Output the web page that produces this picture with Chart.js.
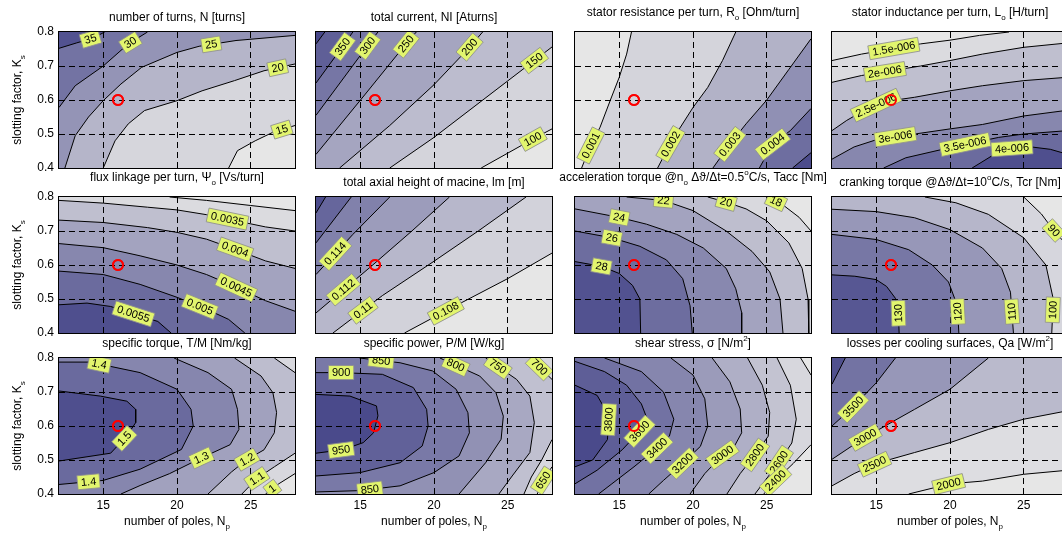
<!DOCTYPE html>
<html><head><meta charset="utf-8">
<script src="https://cdn.jsdelivr.net/npm/chart.js@4.4.1/dist/chart.umd.min.js"></script>
<style>
html,body{margin:0;padding:0;background:#fff;}
body{width:1062px;height:535px;overflow:hidden;position:relative}
canvas{position:absolute}
</style></head><body>
<script>
// ---------------- axes ----------------
const npRange = [12, 28];
const ksRange = [0.4, 0.8];
const npTicks = [15, 20, 25];
const ksTicks = [0.4, 0.5, 0.6, 0.7, 0.8];
const designPoint = [16, 0.6];

// ---------------- 1: number of turns ----------------
const turnsLevels = [15, 20, 25, 30, 35];
const turnsSpan = [12.5, 38];
const turnsContours = [
  [35, [[12,0.752],[13.2,0.768],[14.3,0.782],[15.1,0.8]], 'tr br bl'],
  [30, [[12,0.578],[13.1,0.642],[15,0.7],[16.7,0.765],[18,0.8]], 'tr br bl'],
  [25, [[12.4,0.4],[13.1,0.495],[14,0.55],[15,0.598],[16.2,0.647],[17.6,0.696],[20,0.74],[21.5,0.758],[24,0.775],[28,0.79]], 'br'],
  [20, [[15,0.4],[15.8,0.48],[16.7,0.53],[17.8,0.569],[20,0.598],[21.7,0.627],[23.9,0.657],[25.9,0.686],[28,0.706]], 'br'],
  [15, [[23.5,0.4],[24.1,0.451],[25.3,0.48],[26.5,0.505],[28,0.525]], 'br']
];
const turnsLabels = [[35,14.2,0.77],[30,16.9,0.765],[25,22.3,0.77],[20,26.85,0.69],[15,27.1,0.515]];

// ---------------- 2: total current ----------------
const currentLevels = [100, 150, 200, 250, 300, 350, 400];
const currentSpan = [61, 420];
const currentContours = [
  [400, [[12,0.765],[12.6,0.8]], 'tr br bl'],
  [350, [[12,0.65],[13.8,0.757],[14.5,0.8]], 'tr br bl'],
  [300, [[12,0.555],[15.5,0.76],[16.2,0.8]], 'tr br bl'],
  [250, [[12,0.44],[15.3,0.615],[18.1,0.765],[18.8,0.8]], 'tr br bl'],
  [200, [[13.6,0.4],[17,0.525],[20,0.645],[22.3,0.75],[23.3,0.8]], 'tr br'],
  [150, [[17,0.4],[20,0.49],[26.8,0.716],[28,0.756]], 'br'],
  [100, [[23.2,0.4],[26.7,0.485],[28,0.515]], 'br']
];
const currentLabels = [[350,13.8,0.757],[300,15.5,0.76],[250,18.1,0.765],[200,22.3,0.76],[150,26.8,0.716],[100,26.7,0.485]];

// ---------------- 3: stator resistance ----------------
const resistLevels = [0.001, 0.002, 0.003, 0.004, 0.005];
const resistSpan = [0.00046, 0.0054];
const resistContours = [
  [0.001, [[15.83,0.8],[15.5,0.735],[15,0.667],[14.4,0.6],[13.7,0.52],[13.0,0.46],[12.45,0.4]], 'bl tl'],
  [0.002, [[22.9,0.8],[22,0.716],[21,0.637],[20,0.578],[19,0.51],[18.2,0.45],[17.6,0.4]], 'bl tl'],
  [0.003, [[28,0.78],[26.5,0.69],[25,0.6],[23.6,0.53],[22.5,0.47],[21.35,0.4]], 'bl tl tr'],
  [0.004, [[28,0.575],[26.6,0.51],[25.4,0.47],[24.5,0.4]], 'bl tl tr'],
  [0.005, [[28,0.445],[26.75,0.4]], 'bl tl tr']
];
const resistLabels = [[0.001,12.9,0.47],[0.002,18.5,0.47],[0.003,22.5,0.47],[0.004,25.4,0.47]];

// ---------------- 4: stator inductance ----------------
const inductLevels = [1.5e-6, 2e-6, 2.5e-6, 3e-6, 3.5e-6, 4e-6];
const inductSpan = [1.3e-6, 4.3e-6];
const inductContours = [
  [1.5e-6, [[12,0.716],[14,0.735],[16,0.75],[18,0.765],[20,0.776],[22,0.79],[24,0.8]], 'tl'],
  [2e-6, [[12,0.652],[14,0.672],[16,0.686],[18,0.7],[20,0.716],[22.2,0.735],[25,0.755],[28,0.768]], 'tr tl'],
  [2.5e-6, [[12,0.51],[13,0.54],[14,0.565],[15,0.585],[16,0.598],[17.6,0.608],[20,0.627],[22.2,0.642],[25,0.657],[28,0.667]], 'tr tl'],
  [3e-6, [[12,0.426],[13.5,0.462],[15,0.483],[16.3,0.492],[18.1,0.503],[20,0.515],[22.2,0.528],[25,0.553],[28,0.57]], 'tr tl'],
  [3.5e-6, [[15.5,0.4],[17,0.43],[20,0.46],[23.3,0.49],[25,0.5],[28,0.51]], 'tr tl bl'],
  [4e-6, [[21.5,0.4],[23,0.44],[24.2,0.458],[25.5,0.462],[26.8,0.455],[28,0.44]], 'tr tl bl']
];
const inductLabels = [[1.5e-6,16.2,0.75],[2e-6,15.6,0.68],[2.5e-6,15.05,0.579],[3e-6,16.3,0.49],[3.5e-6,21,0.474],[4e-6,24.2,0.459]];

// ---------------- 5: flux linkage ----------------
const fluxLevels = [0.003, 0.0035, 0.004, 0.0045, 0.005, 0.0055];
const fluxSpan = [0.0028, 0.0058];
const fluxContours = [
  [0.003, [[19.5,0.8],[22,0.79],[25,0.775],[28,0.76]], 'tr'],
  [0.0035, [[12,0.79],[15,0.782],[18,0.77],[20,0.762],[22,0.748],[24,0.73],[26,0.712],[28,0.7]], 'tr tl'],
  [0.004, [[12,0.732],[15,0.725],[18,0.71],[20,0.696],[22,0.676],[24,0.645],[26,0.612],[28,0.59]], 'tr tl'],
  [0.0045, [[12,0.663],[15,0.651],[17.5,0.627],[20,0.6],[22,0.572],[24,0.535],[26,0.495],[28,0.464]], 'tr tl'],
  [0.005, [[12,0.582],[15,0.572],[17.5,0.543],[20,0.505],[22,0.47],[23.5,0.44],[24.6,0.4]], 'br tr tl'],
  [0.0055, [[12,0.483],[13.9,0.488],[15.5,0.478],[17.5,0.45],[18.7,0.434],[19.6,0.4]], 'br tr tl']
];
const fluxLabels = [[0.0035,23.45,0.74],[0.004,23.9,0.641],[0.0045,24.1,0.543],[0.005,21.6,0.483],[0.0055,17.1,0.464]];

// ---------------- 6: axial height ----------------
const heightLevels = [0.108, 0.11, 0.112, 0.114, 0.116, 0.118];
const heightSpan = [0.1065, 0.119];
const heightContours = [
  [0.118, [[12,0.753],[12.65,0.8]], 'tr br bl'],
  [0.116, [[12,0.665],[14.39,0.8]], 'tr br bl'],
  [0.114, [[12,0.572],[14.5,0.69],[17,0.8]], 'tr br bl'],
  [0.112, [[12,0.459],[15.74,0.596],[18.5,0.7],[21.05,0.8]], 'tr br bl'],
  [0.11, [[13.15,0.4],[16.5,0.51],[20,0.611],[23,0.7],[26.24,0.8]], 'tr br'],
  [0.108, [[18.0,0.4],[20.8,0.465],[25,0.56],[28,0.635]], 'br']
];
const heightLabels = [[0.114,13.4,0.63],[0.112,13.8,0.53],[0.11,15.2,0.466],[0.108,20.8,0.465]];

// ---------------- 7: acceleration torque ----------------
const taccLevels = [18, 20, 22, 24, 26, 28];
const taccSpan = [17, 29.5];
const taccContours = [
  [28, [[12,0.61],[13.8,0.596],[15,0.575],[15.9,0.54],[16.4,0.5],[16.45,0.4]], 'br tr tl'],
  [26, [[12,0.7],[14.5,0.68],[16.4,0.655],[18.2,0.615],[19.3,0.56],[19.8,0.48],[19.95,0.4]], 'br tr tl'],
  [24, [[12,0.765],[15,0.74],[16.85,0.72],[18.9,0.69],[20.7,0.65],[22.25,0.59],[22.9,0.53],[23.3,0.46],[23.3,0.4]], 'br tr tl'],
  [22, [[15.5,0.8],[18,0.79],[20,0.76],[22.25,0.7],[24,0.64],[25.2,0.58],[25.9,0.5],[26.1,0.4]], 'br tr'],
  [20, [[21,0.8],[22.25,0.785],[23.6,0.765],[25,0.73],[26.5,0.665],[27.4,0.59],[27.8,0.5],[27.85,0.4]], 'br tr'],
  [18, [[25,0.8],[26,0.78],[27.2,0.74],[28,0.7]], 'tr']
];
const taccLabels = [[28,13.8,0.596],[26,14.5,0.68],[24,15,0.74],[22,18,0.79],[20,22.25,0.785],[18,25.6,0.785]];

// ---------------- 8: cranking torque ----------------
const tcrLevels = [90, 100, 110, 120, 130];
const tcrSpan = [85, 138];
const tcrContours = [
  [130, [[12,0.571],[13.55,0.567],[15,0.557],[15.7,0.537],[16.3,0.502],[16.5,0.463],[16.55,0.4]], 'br tr tl'],
  [120, [[12,0.69],[15,0.675],[17.2,0.645],[18.8,0.6],[19.9,0.55],[20.5,0.48],[20.6,0.4]], 'br tr tl'],
  [110, [[12,0.764],[15,0.757],[17.6,0.739],[20,0.704],[22.2,0.65],[23.5,0.59],[24.1,0.52],[24.3,0.4]], 'br tr tl'],
  [100, [[18.3,0.8],[20.4,0.783],[22.6,0.749],[25,0.68],[26.5,0.6],[27,0.5],[26.9,0.4]], 'br tr'],
  [90, [[25,0.8],[26.2,0.75],[27,0.703],[28,0.655]], 'tr']
];
const tcrLabels = [[130,16.45,0.458],[120,20.55,0.463],[110,24.2,0.463],[100,27,0.468],[90,27,0.7]];

// ---------------- 9: specific torque ----------------
const torqueMassLevels = [1.0, 1.1, 1.2, 1.3, 1.4, 1.5];
const torqueMassSpan = [0.95, 1.56];
const torqueMassContours = [
  [1.5, [[12,0.703],[14.8,0.688],[16.6,0.673],[17.2,0.649],[17.2,0.61],[16.6,0.571],[15.5,0.52],[12,0.497]], 'bl br tr tl'],
  [1.4, [[12,0.788],[14.1,0.788],[17.5,0.757],[20,0.708],[20.95,0.649],[21.1,0.6],[20.3,0.531],[17.5,0.473],[15,0.44],[12,0.428]], 'bl br tr tl'],
  [1.3, [[19.8,0.8],[22.1,0.757],[23.7,0.708],[24.1,0.649],[24.2,0.59],[23.6,0.545],[21.6,0.505],[19.5,0.46],[17.5,0.425],[16.2,0.4]], 'br tr'],
  [1.2, [[23.9,0.8],[25.7,0.747],[26.5,0.698],[26.75,0.64],[26.6,0.58],[25.9,0.53],[24.7,0.5],[23.7,0.465],[22.1,0.4]], 'br tr'],
  [1.1, [[26.6,0.8],[28,0.757]], 'tr'],
  [1.1, [[28,0.52],[26.6,0.48],[25.4,0.445],[24.4,0.4]], 'br'],
  [1.0, [[28,0.46],[26.9,0.43],[26,0.4]], 'br']
];
const torqueMassLabels = [[1.4,14.7,0.776],[1.5,16.5,0.561],[1.4,14.0,0.438],[1.3,21.6,0.512],[1.2,24.7,0.505],[1.1,25.3,0.453],[1.0,26.3,0.425]];

// ---------------- 10: specific power ----------------
const powerMassLevels = [650, 700, 750, 800, 850, 900, 950];
const powerMassSpan = [620, 975];
const powerMassContours = [
  [950, [[12,0.693],[14.3,0.688],[16.1,0.659],[16.2,0.63],[15.9,0.58],[15.2,0.551],[13.8,0.53],[12,0.52]], 'bl br tr tl'],
  [900, [[12,0.757],[13.7,0.757],[16.5,0.752],[18.6,0.713],[19.5,0.649],[19.6,0.6],[19.2,0.541],[17.7,0.492],[15,0.463],[12,0.453]], 'bl br tr tl'],
  [850, [[14.95,0.8],[17.7,0.786],[19.9,0.762],[21.5,0.708],[22.3,0.639],[22.4,0.58],[21.7,0.512],[20,0.463],[17.7,0.424],[15,0.41],[12,0.406]], 'bl br tr'],
  [800, [[20.4,0.8],[23.1,0.747],[24.2,0.698],[24.7,0.629],[24.55,0.561],[23.5,0.492],[21.7,0.4]], 'br tr'],
  [750, [[23.5,0.8],[25.6,0.737],[26.5,0.688],[26.8,0.61],[26.5,0.522],[25.3,0.453],[24.4,0.4]], 'br tr'],
  [700, [[26.5,0.8],[28,0.737]], 'tr'],
  [700, [[28,0.56],[27.3,0.5],[26.6,0.45],[26.1,0.4]], 'br'],
  [650, [[28,0.48],[27.4,0.44],[27,0.4]], 'br']
];
const powerMassLabels = [[900,13.7,0.765],[850,16.4,0.786],[800,21.5,0.782],[750,24.2,0.767],[700,27,0.767],[950,13.7,0.531],[850,15.6,0.433],[650,27.4,0.44]];

// ---------------- 11: shear stress ----------------
const shearLevels = [2400, 2600, 2800, 3000, 3200, 3400, 3600, 3800];
const shearSpan = [2250, 3920];
const shearContours = [
  [3800, [[12,0.72],[13.5,0.69],[14.3,0.63],[14.2,0.56],[13.2,0.5],[12,0.48]], 'bl br tr tl'],
  [3600, [[12,0.79],[14,0.76],[15.5,0.72],[16.5,0.665],[16.9,0.62],[16.5,0.59],[15.2,0.53],[13.5,0.47],[12,0.43]], 'bl br tr tl'],
  [3400, [[14,0.8],[16.5,0.76],[18,0.7],[18.7,0.62],[18.4,0.57],[17.56,0.535],[16,0.48],[14.5,0.43],[13.6,0.4]], 'br tr'],
  [3200, [[18.5,0.8],[20,0.75],[20.8,0.68],[21,0.6],[20.5,0.54],[19.3,0.49],[18,0.44],[17,0.4]], 'br tr'],
  [3000, [[21.3,0.8],[22.5,0.73],[23.2,0.65],[23.3,0.58],[22.8,0.54],[22,0.515],[20.8,0.46],[19.8,0.4]], 'br tr'],
  [2800, [[23.7,0.8],[24.7,0.72],[25.2,0.64],[25.1,0.57],[24.2,0.515],[23.2,0.46],[22.3,0.4]], 'br tr'],
  [2600, [[25.7,0.8],[26.6,0.72],[27,0.62],[26.7,0.55],[25.83,0.494],[24.9,0.44],[24.2,0.4]], 'br tr'],
  [2400, [[27.3,0.8],[28,0.75]], 'tr'],
  [2400, [[28,0.545],[26.8,0.49],[25.6,0.44],[24.8,0.4]], 'br']
];
const shearLabels = [[3800,13.9,0.62],[3600,16.6,0.575],[3400,17.56,0.535],[3200,19.3,0.49],[3000,22,0.515],[2800,24.2,0.515],[2600,25.83,0.494],[2400,25.6,0.44]];

// ---------------- 12: losses per cooling surface ----------------
const lossLevels = [2000, 2500, 3000, 3500, 4000];
const lossSpan = [1880, 4250];
const lossContours = [
  [4000, [[12,0.723],[12.9,0.8]], 'tr br bl'],
  [3500, [[12,0.6],[13.4,0.655],[15,0.727],[16.3,0.8]], 'tr br bl'],
  [3000, [[12,0.502],[14,0.56],[16,0.61],[17.6,0.649],[20,0.708],[22.6,0.8]], 'tr br bl'],
  [2500, [[12,0.424],[13.5,0.46],[15,0.49],[17.6,0.522],[20,0.551],[22.6,0.59],[25,0.62],[28,0.645]], 'br bl'],
  [2000, [[17.2,0.4],[20,0.43],[22.2,0.438],[25,0.458],[28,0.47]], 'br']
];
const lossLabels = [[3500,13.3,0.662],[3000,14.1,0.578],[2500,15,0.477],[2000,19.9,0.43]];

// ---------------- titles ----------------
const yTitle = [['slotting factor, K'],['s','sub']];
const xTitle = [['number of poles, N'],['p','sub']];

const panels = [
  {title:[['number of turns, N [turns]']], levels:turnsLevels, span:turnsSpan, contours:turnsContours, labels:turnsLabels},
  {title:[['total current, NI [Aturns]']], levels:currentLevels, span:currentSpan, contours:currentContours, labels:currentLabels},
  {title:[['stator resistance per turn, R'],['o','sub'],[' [Ohm/turn]']], levels:resistLevels, span:resistSpan, contours:resistContours, labels:resistLabels},
  {title:[['stator inductance per turn, L'],['o','sub'],[' [H/turn]']], levels:inductLevels, span:inductSpan, contours:inductContours, labels:inductLabels},
  {title:[['flux linkage per turn, \u03A8'],['o','sub'],[' [Vs/turn]']], levels:fluxLevels, span:fluxSpan, contours:fluxContours, labels:fluxLabels},
  {title:[['total axial height of macine, lm [m]']], levels:heightLevels, span:heightSpan, contours:heightContours, labels:heightLabels},
  {title:[['acceleration torque @n'],['o','sub'],[' \u0394\u03D1/\u0394t=0.5'],['o','sup'],['C/s, Tacc [Nm]']], levels:taccLevels, span:taccSpan, contours:taccContours, labels:taccLabels},
  {title:[['cranking torque @\u0394\u03D1/\u0394t=10'],['o','sup'],['C/s, Tcr [Nm]']], levels:tcrLevels, span:tcrSpan, contours:tcrContours, labels:tcrLabels},
  {title:[['specific torque, T/M [Nm/kg]']], levels:torqueMassLevels, span:torqueMassSpan, contours:torqueMassContours, labels:torqueMassLabels},
  {title:[['specific power, P/M [W/kg]']], levels:powerMassLevels, span:powerMassSpan, contours:powerMassContours, labels:powerMassLabels},
  {title:[['shear stress, \u03C3 [N/m'],['2','sup'],[']']], levels:shearLevels, span:shearSpan, contours:shearContours, labels:shearLabels},
  {title:[['losses per cooling surfaces, Qa [W/m'],['2','sup'],[']']], levels:lossLevels, span:lossSpan, contours:lossContours, labels:lossLabels}
];

// ---------------- layout & style ----------------
const FONT = '"Liberation Sans", Arial, Helvetica, "DejaVu Sans", sans-serif';
const colLeft = [59, 316, 575, 832], rowTop = [32, 197, 358], PW = 236, PH = 136;
const PADL = 59, PADT = 34, PADR = 24, PADB = 44;
const LIGHT = [230,230,230], DARK = [62,62,132];
const LABEL_BG = 'rgb(226,245,110)';

function cmap(t) {
  t = Math.max(0, Math.min(1, t));
  return 'rgb(' + LIGHT.map((v, k) => Math.round(v + (DARK[k] - v) * t)).join(',') + ')';
}
// MATLAB-like: each band takes the colour of its lower level; the lowest band the data minimum
function bandColor(P, j) {
  const [lo, hi] = P.span;
  return j === 0 ? cmap(0) : cmap((P.levels[j - 1] - lo) / (hi - lo));
}
const CORNER = {tl:[npRange[0],ksRange[1]], tr:[npRange[1],ksRange[1]], br:[npRange[1],ksRange[0]], bl:[npRange[0],ksRange[0]]};
const xy = p => ({x:p[0], y:p[1]});

function makeDatasets(P) {
  const k = P.levels.length, ds = [];
  let ord = 1000;
  ds.push({data:['bl','br','tr','tl'].map(c => xy(CORNER[c])), fill:'shape', backgroundColor:bandColor(P,k), borderWidth:0, pointRadius:0, order:ord--});
  for (let j = k - 1; j >= 0; j--) {
    for (const c of P.contours) {
      if (c[0] !== P.levels[j]) continue;
      const poly = c[1].concat(c[2].split(' ').filter(Boolean).map(s => CORNER[s]));
      ds.push({data:poly.map(xy), fill:'shape', backgroundColor:bandColor(P,j), borderWidth:0, pointRadius:0, order:ord--});
    }
  }
  for (const c of P.contours) ds.push({data:c[1].map(xy), fill:false, borderColor:'#000', borderWidth:1, pointRadius:0, order:1});
  ds.push({data:[xy(designPoint)], showLine:false, pointRadius:5, pointBorderWidth:2, pointBorderColor:'#ff0000', pointBackgroundColor:'rgba(0,0,0,0)', order:0, isDesign:true});
  return ds;
}

function labelText(v) {
  if (Math.abs(v) < 1e-4) return v.toExponential().replace(/e([+-])(\d+)$/, (m, s, d) => 'e' + s + d.padStart(3, '0'));
  return String(v);
}

function drawRich(ctx, segs, cx, cy) {
  const sz = s => s[1] ? 8 : 12;
  let w = 0;
  for (const s of segs) { ctx.font = sz(s) + 'px ' + FONT; w += ctx.measureText(s[0]).width; }
  let x = cx - w / 2;
  ctx.fillStyle = '#000'; ctx.textAlign = 'left'; ctx.textBaseline = 'middle';
  for (const s of segs) {
    ctx.font = sz(s) + 'px ' + FONT;
    const dy = s[1] === 'sub' ? 5 : s[1] === 'sup' ? -5 : 0;
    ctx.fillText(s[0], x, cy + dy);
    x += ctx.measureText(s[0]).width;
  }
}

function deco(P, r, c) {
  return {
    id: 'deco',
    afterDraw(chart) {
      const ctx = chart.ctx, a = chart.chartArea, xs = chart.scales.x, ys = chart.scales.y;
      ctx.save();
      ctx.beginPath(); ctx.rect(a.left, a.top, a.right - a.left, a.bottom - a.top); ctx.clip();
      ctx.font = '11px ' + FONT; ctx.textAlign = 'center'; ctx.textBaseline = 'middle';
      for (const L of P.labels) {
        const qx = xs.getPixelForValue(L[1]), qy = ys.getPixelForValue(L[2]);
        let best = null;
        for (const cc of P.contours) {
          if (cc[0] !== L[0]) continue;
          const pts = cc[1].map(p => [xs.getPixelForValue(p[0]), ys.getPixelForValue(p[1])]);
          for (let i = 0; i < pts.length - 1; i++) {
            const [x1, y1] = pts[i], [x2, y2] = pts[i + 1];
            const dx = x2 - x1, dy = y2 - y1, l2 = dx * dx + dy * dy || 1;
            let t = ((qx - x1) * dx + (qy - y1) * dy) / l2; t = Math.max(0, Math.min(1, t));
            const px = x1 + t * dx, py = y1 + t * dy, d = (px - qx) ** 2 + (py - qy) ** 2;
            if (!best || d < best.d) best = {d, x:px, y:py, a:Math.atan2(dy, dx)};
          }
        }
        if (!best) best = {x:qx, y:qy, a:0};
        let ang = best.a;
        while (ang > Math.PI / 2) ang -= Math.PI;
        while (ang <= -Math.PI / 2) ang += Math.PI;
        if (ang > 1.2) ang -= Math.PI;
        const txt = labelText(L[0]);
        const w = ctx.measureText(txt).width + 7, h = 14;
        ctx.save();
        ctx.translate(best.x, best.y); ctx.rotate(ang);
        ctx.fillStyle = LABEL_BG; ctx.fillRect(-w / 2, -h / 2, w, h);
        ctx.strokeStyle = '#8f8f8f'; ctx.lineWidth = 0.8; ctx.strokeRect(-w / 2, -h / 2, w, h);
        ctx.fillStyle = '#000'; ctx.fillText(txt, 0, 0.5);
        ctx.restore();
      }
      // design point marker drawn again above the labels (library point elements)
      chart.data.datasets.forEach((d, i) => {
        if (!d.isDesign) return;
        chart.getDatasetMeta(i).data.forEach(el => el.draw(ctx, a));
      });
      ctx.restore();
      ctx.save();
      ctx.strokeStyle = '#000'; ctx.lineWidth = 1;
      ctx.strokeRect(a.left - 0.5, a.top - 0.5, a.right - a.left + 1, a.bottom - a.top + 1);
      ctx.restore();
      ctx.save();
      const hasSub = P.title.some(s => s[1] === 'sub');
      drawRich(ctx, P.title, (a.left + a.right) / 2, a.top - (hasSub ? 19 : 14));
      if (r === 2) drawRich(ctx, xTitle, (a.left + a.right) / 2, a.bottom + 28);
      if (c === 0) {
        ctx.translate(18, (a.top + a.bottom) / 2); ctx.rotate(-Math.PI / 2);
        drawRich(ctx, yTitle, 0, 0);
      }
      ctx.restore();
    }
  };
}

Chart.defaults.font.family = FONT;

panels.forEach((P, i) => {
  const r = Math.floor(i / 4), c = i % 4;
  const cv = document.createElement('canvas');
  cv.width = PADL + PW + PADR; cv.height = PADT + PH + PADB;
  cv.style.left = (colLeft[c] - PADL) + 'px'; cv.style.top = (rowTop[r] - PADT) + 'px';
  document.body.appendChild(cv);
  new Chart(cv, {
    type: 'line',
    data: {datasets: makeDatasets(P)},
    options: {
      responsive: false, animation: false, events: [],
      layout: {padding: {left:0, top:PADT, right:PADR, bottom:0}},
      elements: {line: {tension: 0}},
      plugins: {legend: {display:false}, tooltip: {enabled:false}},
      scales: {
        x: {
          type:'linear', min:npRange[0], max:npRange[1],
          afterBuildTicks: s => { s.ticks = npTicks.map(v => ({value:v})); },
          afterFit: s => { s.height = PADB; },
          ticks: {display: r === 2, color:'#000', font:{size:12, family:FONT}, padding:4, maxRotation:0, autoSkip:false, callback: v => String(v)},
          grid: {color:'#000', lineWidth:1, drawTicks:false, z:1, borderDash:[6,4]},
          border: {display:false, dash:[6,4]}
        },
        y: {
          type:'linear', min:ksRange[0], max:ksRange[1],
          afterBuildTicks: s => { s.ticks = ksTicks.map(v => ({value:v})); },
          afterFit: s => { s.width = PADL; },
          ticks: {display: c === 0, color:'#000', font:{size:12, family:FONT}, padding:5, callback: v => Number(v).toFixed(1)},
          grid: {color: cx => (cx.tick && (cx.tick.value <= ksRange[0] + 1e-6 || cx.tick.value >= ksRange[1] - 1e-6)) ? 'rgba(0,0,0,0)' : '#000',
                 lineWidth:1, drawTicks:false, z:1, borderDash:[6,4]},
          border: {display:false, dash:[6,4]}
        }
      }
    },
    plugins: [deco(P, r, c)]
  });
});
</script>
</body></html>
